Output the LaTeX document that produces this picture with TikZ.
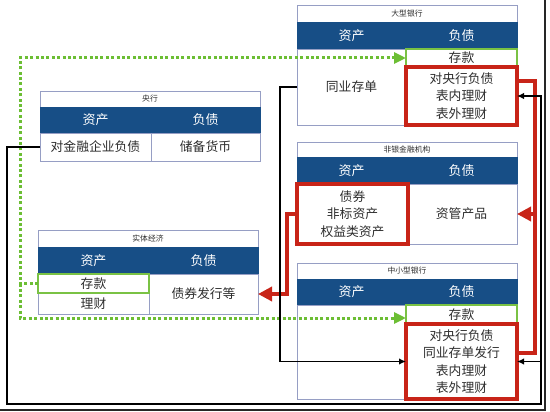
\documentclass[tikz,border=0pt]{standalone}
\usepackage{fontspec}
\setmainfont{Noto Sans CJK SC}
\usetikzlibrary{arrows.meta,calc}
\definecolor{hdr}{RGB}{23,78,134}
\definecolor{bx}{RGB}{150,158,196}
\definecolor{myred}{RGB}{200,36,24}
\definecolor{grn}{RGB}{122,194,68}
\definecolor{dotg}{RGB}{108,190,52}
\definecolor{txt}{RGB}{45,45,45}
\begin{document}
\begin{tikzpicture}[x=1pt,y=-1pt,
  cellbase/.style={anchor=north west, inner sep=0pt, outer sep=0pt, align=center, text=txt,
    font=\fontsize{12.8}{17.5}\selectfont},
  ttl/.style={cellbase, draw=bx, fill=white, font=\fontsize{7.8}{9}\selectfont},
  hd/.style={cellbase, fill=hdr, draw=hdr, text=white, font=\fontsize{13}{15}\selectfont},
  cl/.style={cellbase, draw=bx},
  rb/.style={cellbase, draw=myred, line width=3.4pt},
  gb/.style={cellbase, draw=grn, line width=2pt},
  blk/.style={draw=black, line width=1.9pt, -{Latex[length=7pt,width=6.5pt]}},
  rline/.style={draw=myred, line width=3.4pt},
  rarr/.style={rline, -{Triangle[length=14pt,width=14pt]}},
  gline/.style={draw=dotg, line width=3pt, dash pattern=on 3pt off 2.4pt, -{Triangle[length=12pt,width=11pt]}},
  framec/.style={draw=black!85, line width=1.2pt}
]
\useasboundingbox (0,0) rectangle (550,412);

% 央行
\node[ttl, minimum width=220pt, minimum height=16pt] (cbT) at (40,91) {央行};
\node[hd, minimum width=111pt, minimum height=26pt] (cbHa) at (40,107) {资产};
\node[hd, minimum width=109pt, minimum height=26pt] (cbHl) at (151,107) {负债};
\node[cl, minimum width=111pt, minimum height=28pt] (cbA) at (40,133) {对金融企业负债};
\node[cl, minimum width=109pt, minimum height=28pt] (cbL) at (151,133) {储备货币};

% 大型银行
\node[ttl, minimum width=220pt, minimum height=17pt] (lbT) at (297,5) {大型银行};
\node[hd, minimum width=109pt, minimum height=27pt] (lbHa) at (297,22) {资产};
\node[hd, minimum width=111pt, minimum height=27pt] (lbHl) at (406,22) {负债};
\node[cl, minimum width=109pt, minimum height=76pt] (lbA) at (297,49) {同业存单};
\node[gb, minimum width=111pt, minimum height=18pt] (lbD) at (406,49) {存款};
\node[rb, minimum width=111pt, minimum height=58pt] (lbR) at (406,67) {对央行负债\\表内理财\\表外理财};

% 非银金融机构
\node[ttl, minimum width=220pt, minimum height=15pt] (nbT) at (297,142) {非银金融机构};
\node[hd, minimum width=109pt, minimum height=27pt] (nbHa) at (297,157) {资产};
\node[hd, minimum width=111pt, minimum height=27pt] (nbHl) at (406,157) {负债};
\node[cl, minimum width=111pt, minimum height=60pt] (nbL) at (406,184) {资管产品};
\node[rb, minimum width=111pt, minimum height=60pt] (nbA) at (297,184) {债券\\非标资产\\权益类资产};

% 实体经济
\node[ttl, minimum width=220pt, minimum height=17pt] (reT) at (38,230) {实体经济};
\node[hd, minimum width=111pt, minimum height=27pt] (reHa) at (38,247) {资产};
\node[hd, minimum width=109pt, minimum height=27pt] (reHl) at (149,247) {负债};
\node[cl, minimum width=111pt, minimum height=21pt] (reF) at (38,293) {理财};
\node[cl, minimum width=109pt, minimum height=40pt] (reL) at (149,274) {债券发行等};
\node[gb, minimum width=111pt, minimum height=19pt] (reD) at (38,274) {存款};

% 中小型银行
\node[ttl, minimum width=220pt, minimum height=16pt] (sbT) at (297,263) {中小型银行};
\node[hd, minimum width=109pt, minimum height=26pt] (sbHa) at (297,279) {资产};
\node[hd, minimum width=111pt, minimum height=26pt] (sbHl) at (406,279) {负债};
\node[cl, minimum width=109pt, minimum height=94pt] (sbA) at (297,305) {};
\node[gb, minimum width=111pt, minimum height=19pt] (sbD) at (406,305) {存款};
\node[rb, minimum width=111pt, minimum height=75pt] (sbR) at (406,324) {对央行负债\\同业存单发行\\表内理财\\表外理财};

% frame edge
\draw[framec] (545,0) -- (545,410) -- (0,410);

% green dotted connectors
\coordinate (g1) at (20,58);
\coordinate (g2) at (20,318);
\draw[gline] (reD.west) -| (g1) -- (lbD.west);
\draw[gline] (reD.west -| g1) -- (g2) -- (sbD.west |- g2);

% red connectors
\coordinate (r1) at (535,81);
\coordinate (r2) at (535,353);
\draw[rline, line join=miter] (lbR.east |- r1) -- (r1) -- (r2) -- (sbR.east |- r2);
\draw[rarr] (r1 |- nbL.east) -- (nbL.east);
\draw[rarr, line join=miter] (nbA.west) -- ++(-10,0) |- (reL.east);

% black connectors
\coordinate (k1) at (7,404);
\coordinate (k2) at (541,404);
\draw[blk] (cbA.west) -| (k1) -- (k2) |- (lbR.east);
\draw[blk] (k2 |- sbR.east) -- (sbR.east);
\draw[blk] (lbA.west) -- ++(-17,0) |- (sbR.west);
\end{tikzpicture}
\end{document}
